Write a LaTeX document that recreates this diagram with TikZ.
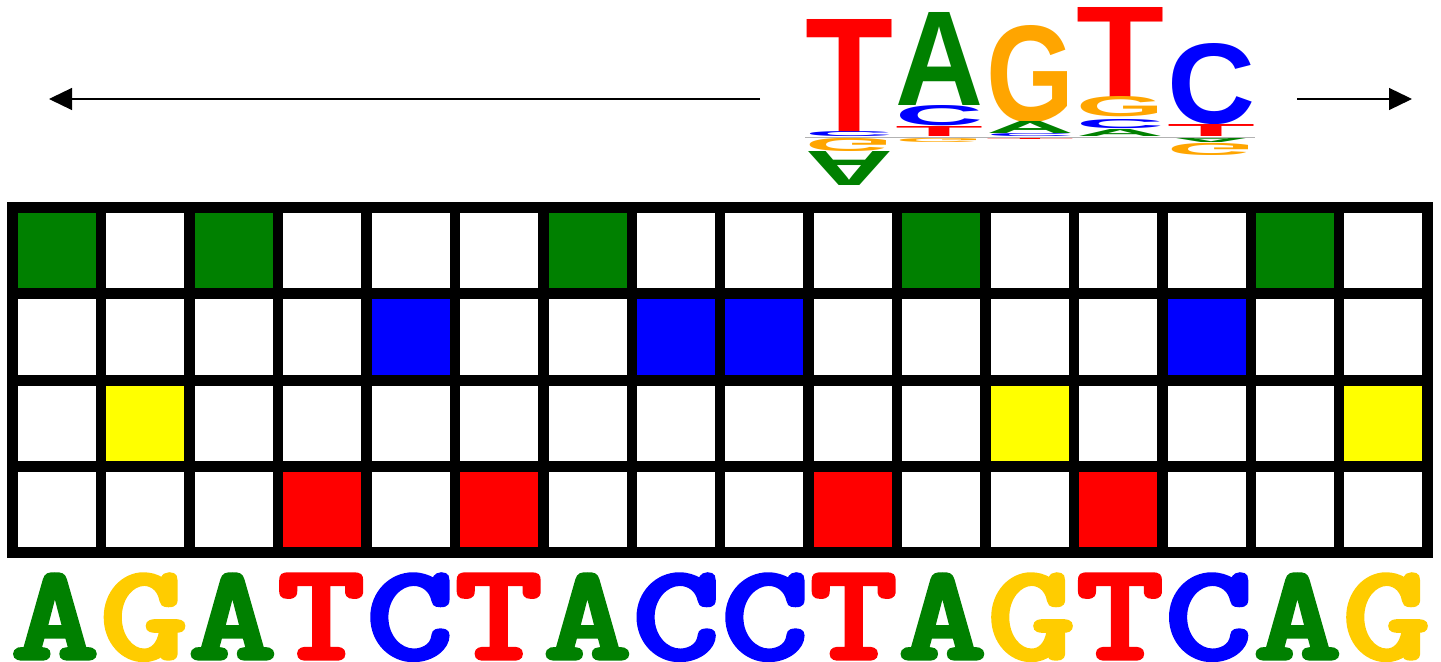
\documentclass[tikz,border=0pt]{standalone}
\usepackage{fontspec}
\usetikzlibrary{arrows.meta}
\newfontfamily\seqfont{lmmonolt10-bold}[Extension=.otf, FakeBold=2.5]
\newfontfamily\logofont{Liberation Sans}
\definecolor{baseA}{RGB}{0, 128, 0}
\definecolor{baseC}{RGB}{0, 0, 255}
\definecolor{baseG}{RGB}{255, 204, 0}
\definecolor{baseT}{RGB}{255, 0, 0}
\definecolor{cellA}{RGB}{0, 128, 0}
\definecolor{cellC}{RGB}{0, 0, 255}
\definecolor{cellG}{RGB}{255, 255, 0}
\definecolor{cellT}{RGB}{255, 0, 0}
\definecolor{logoG}{RGB}{255, 165, 0}
\newlength{\pxu}
\setlength{\pxu}{0.5pt}
% one stacked letter of the logo: name, x, top, height, colour, letter
\newcommand{\logoup}[6]{%
  \node[logochar, text=#5] (#1) at (#2,#3) {\resizebox{88\pxu}{#4\pxu}{#6}};}
\newcommand{\logodown}[6]{%
  \node[logochar, text=#5] (#1) at (#2,#3)
    {\scalebox{1}[-1]{\resizebox{88\pxu}{#4\pxu}{#6}}};}

\begin{document}
\begin{tikzpicture}[x=0.5pt, y=-0.5pt,
    logochar/.style={anchor=north west, inner sep=0pt, outer sep=0pt,
                     font=\logofont\bfseries},
    seqletter/.style={anchor=base, inner sep=0pt, font=\seqfont},
    seqarrow/.style={-{Triangle[length=11.5pt, width=11pt]}, line width=0.6pt}]
    \useasboundingbox (0,0) rectangle (1441,662);

    %% ── reading direction arrows ───────────────────────────────────
    \coordinate (lstart) at (760,99);
    \coordinate (ltip)   at (49,99);
    \coordinate (rstart) at (1297,99);
    \coordinate (rtip)   at (1412,99);
    \draw[seqarrow] (lstart) -- (ltip);
    \draw[seqarrow] (rstart) -- (rtip);

    %% ── motif logo ─────────────────────────────────────────────────
    % position 1
    \logoup{p1t}{805}{19}{113}{baseT}{T}
    \logoup{p1c}{805}{132}{5}{baseC}{C}
    \logodown{p1g}{805}{138}{13}{logoG}{G}
    \logodown{p1a}{805}{152}{34}{baseA}{A}
    % position 2
    \logoup{p2a}{895}{12}{93}{baseA}{A}
    \logoup{p2c}{895}{106}{20}{baseC}{C}
    \logoup{p2t}{895}{127}{10}{baseT}{T}
    \logodown{p2g}{895}{138}{4}{logoG}{G}
    % position 3
    \logoup{p3g}{986}{25}{96}{logoG}{G}
    \logoup{p3a}{986}{122}{12}{baseA}{A}
    \logoup{p3c}{986}{134}{3}{baseC}{C}
    \logodown{p3t}{986}{138}{2}{baseT}{T}
    % position 4
    \logoup{p4t}{1076}{7}{90}{baseT}{T}
    \logoup{p4g}{1076}{97}{20}{logoG}{G}
    \logoup{p4c}{1076}{120}{9}{baseC}{C}
    \logoup{p4a}{1076}{130}{7}{baseA}{A}
    % position 5
    \logoup{p5c}{1167}{43}{80}{baseC}{C}
    \logoup{p5t}{1167}{125}{12}{baseT}{T}
    \logodown{p5a}{1167}{138}{5}{baseA}{A}
    \logodown{p5g}{1167}{143}{12}{logoG}{G}
    % zero line
    \draw[gray!60, line width=0.6pt] (805,137.5) -- (1255,137.5);

    %% ── one-hot grid ───────────────────────────────────────────────
    \fill[black] (7,202) rectangle (1433,558);
    \foreach \base/\row [count=\i] in {A/1,G/3,A/1,T/4,C/2,T/4,A/1,C/2,
                                       C/2,T/4,A/1,G/3,T/4,C/2,A/1,G/3} {
      \foreach \r in {1,...,4}
        \fill[white] ({18+(\i-1)*88.43},{213+(\r-1)*86.3})
          rectangle ++(78,75.5);
      \fill[cell\base] ({18+(\i-1)*88.43},{213+(\row-1)*86.3})
        rectangle ++(78,75.5);
      % sequence letter under its column
      \node[seqletter, text=base\base] (s\i) at ({55+(\i-1)*88.75},659)
        {\resizebox{88\pxu}{85\pxu}{\base}};
    }

\end{tikzpicture}
\end{document}
